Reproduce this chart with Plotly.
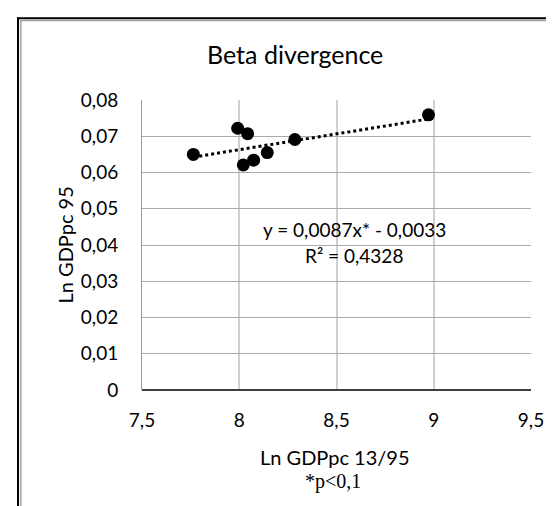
import plotly.graph_objects as go

# ---- data ----
ln_gdppc_x = [7.764, 7.992, 8.043, 8.021, 8.074, 8.144, 8.286, 8.973]
ln_gdppc_y = [0.0650, 0.0722, 0.0707, 0.0621, 0.0634, 0.0655, 0.0691, 0.0759]
trend_slope = 0.0087
trend_intercept = -0.0033
x_tick_vals = [7.5, 8, 8.5, 9, 9.5]
x_tick_text = ["7,5", "8", "8,5", "9", "9,5"]
y_tick_vals = [0, 0.01, 0.02, 0.03, 0.04, 0.05, 0.06, 0.07, 0.08]
y_tick_text = ["0", "0,01", "0,02", "0,03", "0,04", "0,05", "0,06", "0,07", "0,08"]
title_text = "Beta divergence"
x_title = "Ln GDPpc 13/95"
x_note = "*p<0,1"
y_title = "Ln GDPpc 95"
eq_text = "y = 0,0087x* - 0,0033"
r2_text = "R² = 0,4328"

W, H = 554, 506
L, R, T, B = 134, 31, 92, 124
PW, PH = W - L - R, H - T - B


def px(x):
    return (x - L) / PW


def py(y):
    return (H - B - y) / PH


FONT = "Lato"

x_line = [min(ln_gdppc_x), max(ln_gdppc_x)]
y_line = [trend_slope * v + trend_intercept for v in x_line]

fig = go.Figure()
fig.add_trace(go.Scatter(
    x=ln_gdppc_x, y=ln_gdppc_y, mode="markers",
    marker=dict(size=13, color="black", line=dict(width=0)),
    showlegend=False, hoverinfo="skip"))
fig.add_trace(go.Scatter(
    x=x_line, y=y_line, mode="lines",
    line=dict(color="black", width=3, dash="3px,3px"),
    showlegend=False, hoverinfo="skip"))

fig.update_layout(
    width=W, height=H,
    margin=dict(l=L, r=R, t=T, b=B, pad=0),
    paper_bgcolor="white", plot_bgcolor="white",
    font=dict(family=FONT, size=19, color="black"),
    showlegend=False,
    xaxis=dict(range=[7.5, 9.5], tickvals=x_tick_vals, ticktext=x_tick_text,
               showgrid=True, gridcolor="#cfcfcf", gridwidth=2,
               zeroline=False, showline=False, ticks="",
               ticklabelstandoff=17, tickfont=dict(size=19, color="black")),
    yaxis=dict(range=[0, 0.08], tickvals=y_tick_vals, ticktext=y_tick_text,
               showgrid=True, gridcolor="#ababab", gridwidth=1,
               zeroline=True, zerolinecolor="#404040", zerolinewidth=1.5,
               showline=True, linecolor="#9a9a9a", linewidth=1,
               ticks="", ticklabelstandoff=19,
               tickfont=dict(size=19, color="black")),
    annotations=[
        dict(text=title_text, x=px(286.5), y=py(46), xref="paper", yref="paper",
             showarrow=False, xanchor="center", yanchor="middle",
             font=dict(family=FONT, size=25, color="black")),
        dict(text=y_title, x=px(56.5), y=py(237), xref="paper", yref="paper",
             showarrow=False, xanchor="center", yanchor="middle", textangle=-90,
             font=dict(family=FONT, size=20, color="black")),
        dict(text=x_title, x=px(327), y=py(449), xref="paper", yref="paper",
             showarrow=False, xanchor="center", yanchor="middle",
             font=dict(family=FONT, size=20, color="black")),
        dict(text=x_note, x=px(325), y=py(473), xref="paper", yref="paper",
             showarrow=False, xanchor="center", yanchor="middle",
             font=dict(family="Liberation Serif", size=20, color="black")),
        dict(text=eq_text, x=px(346), y=py(221), xref="paper", yref="paper",
             showarrow=False, xanchor="center", yanchor="middle",
             font=dict(family=FONT, size=19, color="black")),
        dict(text=r2_text, x=px(346), y=py(247), xref="paper", yref="paper",
             showarrow=False, xanchor="center", yanchor="middle",
             font=dict(family=FONT, size=19, color="black")),
    ],
    shapes=[
        dict(type="line", xref="paper", yref="paper", x0=px(9), x1=px(W + 5),
             y0=py(10.3), y1=py(10.3), line=dict(color="black", width=2)),
        dict(type="line", xref="paper", yref="paper", x0=px(12), x1=px(W + 5),
             y0=py(12.6), y1=py(12.6), line=dict(color="#a0a0a0", width=1.5)),
        dict(type="line", xref="paper", yref="paper", x0=px(10), x1=px(10),
             y0=py(9.3), y1=py(H + 5), line=dict(color="black", width=2)),
        dict(type="line", xref="paper", yref="paper", x0=px(12.8), x1=px(12.8),
             y0=py(12), y1=py(H + 5), line=dict(color="#a0a0a0", width=1.5)),
    ],
)

fig.write_html("out.html")
